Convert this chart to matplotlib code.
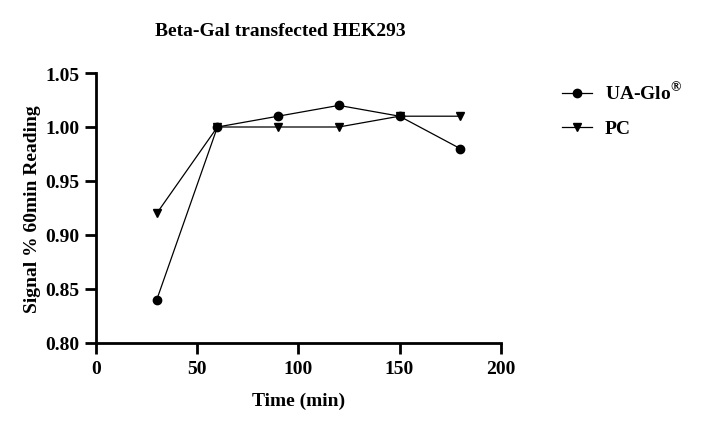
import matplotlib
matplotlib.use('Agg')
import matplotlib.pyplot as plt

# data
time_min = [30, 60, 90, 120, 150, 180]
ua_glo = [0.84, 1.00, 1.01, 1.02, 1.01, 0.98]
pc = [0.92, 1.00, 1.00, 1.00, 1.01, 1.01]
x_ticks = [0, 50, 100, 150, 200]
y_ticks = [0.80, 0.85, 0.90, 0.95, 1.00, 1.05]

plt.rcParams['font.family'] = ['Liberation Serif', 'DejaVu Serif']
plt.rcParams['font.weight'] = 'bold'
plt.rcParams['mathtext.fontset'] = 'custom'
plt.rcParams['mathtext.rm'] = 'Liberation Serif:bold'
plt.rcParams['mathtext.bf'] = 'Liberation Serif:bold'

fs = 14

fig = plt.figure(figsize=(7.02, 4.31), dpi=100)
ax = fig.add_axes([0.1368, 0.2019, 0.5764, 0.6264])

ax.plot(time_min, ua_glo, color='black', linewidth=0.9, marker='o', markersize=6,
        label=r'UA-Glo$^{\mathrm{®}}$', clip_on=False)
ax.plot(time_min, pc, color='black', linewidth=0.9, marker='v', markersize=6,
        label='PC', clip_on=False)

ax.set_xlim(0, 200)
ax.set_ylim(0.80, 1.05)
ax.set_xticks(x_ticks)
ax.set_yticks(y_ticks)
ax.set_yticklabels([f'{v:.2f}' for v in y_ticks])

for side in ['top', 'right']:
    ax.spines[side].set_visible(False)
for side in ['left', 'bottom']:
    ax.spines[side].set_linewidth(2)
ax.tick_params(axis='both', direction='out', length=8, width=2, labelsize=fs, pad=4)
for lbl in ax.get_xticklabels() + ax.get_yticklabels():
    lbl.set_fontweight('bold')

ax.set_xlabel('Time (min)', fontsize=fs, fontweight='bold', labelpad=11)
ax.set_ylabel('Signal % 60min Reading', fontsize=fs, fontweight='bold', labelpad=3)

fig.text(280 / 702, 1 - 31 / 431, 'Beta-Gal transfected HEK293', ha='center', va='center',
         fontsize=fs, fontweight='bold')

ax.legend(loc='upper left', bbox_to_anchor=(562 / 702, 1 - 82 / 431),
          bbox_transform=fig.transFigure, frameon=False, fontsize=fs,
          borderaxespad=0, borderpad=0,
          handlelength=1.55, handletextpad=0.65, labelspacing=0.85)

fig.savefig('out.png', dpi=100)
